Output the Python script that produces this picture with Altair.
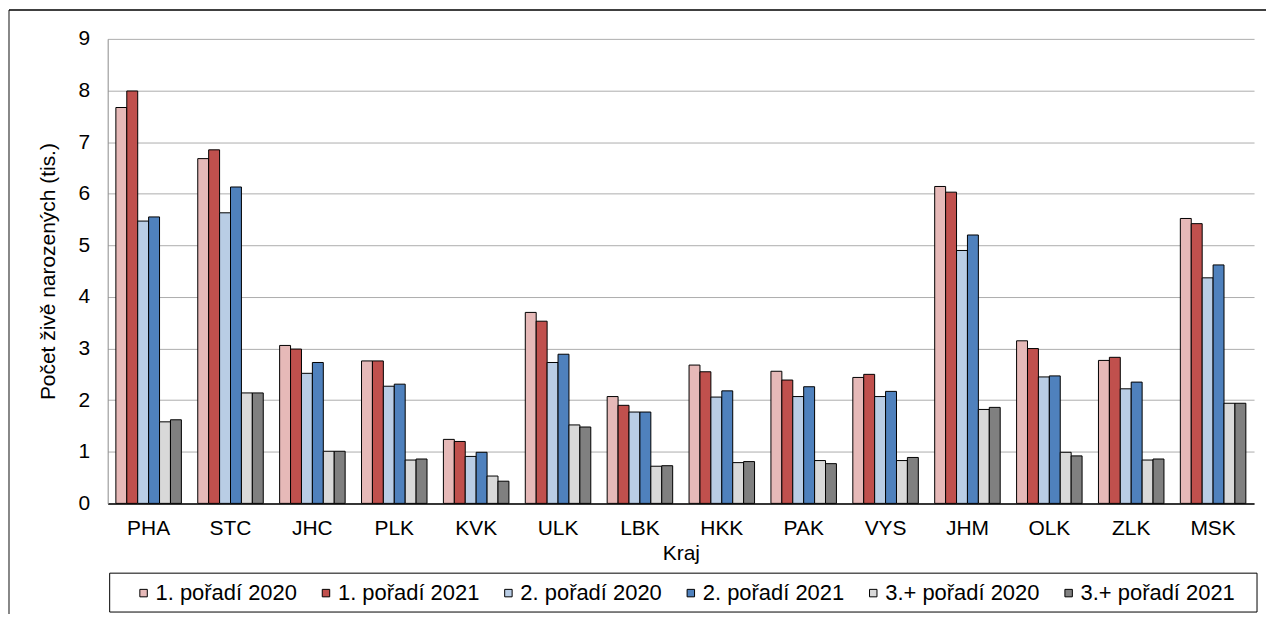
import altair as alt
import pandas as pd

kraje = ["PHA", "STC", "JHC", "PLK", "KVK", "ULK", "LBK", "HKK", "PAK", "VYS", "JHM", "OLK", "ZLK", "MSK"]
serie = ["1. pořadí 2020", "1. pořadí 2021", "2. pořadí 2020", "2. pořadí 2021", "3.+ pořadí 2020", "3.+ pořadí 2021"]
barvy = ["#E6B9B8", "#C0504D", "#B9CDE5", "#4F81BD", "#D9D9D9", "#808080"]

p1_2020 = [7.67, 6.68, 3.06, 2.76, 1.24, 3.70, 2.07, 2.68, 2.56, 2.44, 6.14, 3.15, 2.77, 5.52]
p1_2021 = [7.99, 6.85, 2.99, 2.76, 1.20, 3.53, 1.90, 2.55, 2.39, 2.50, 6.03, 3.00, 2.83, 5.42]
p2_2020 = [5.47, 5.63, 2.52, 2.27, 0.91, 2.73, 1.77, 2.06, 2.07, 2.07, 4.90, 2.45, 2.22, 4.37]
p2_2021 = [5.55, 6.13, 2.73, 2.31, 0.99, 2.89, 1.77, 2.18, 2.26, 2.17, 5.20, 2.47, 2.35, 4.62]
p3_2020 = [1.58, 2.14, 1.01, 0.84, 0.53, 1.52, 0.72, 0.79, 0.83, 0.83, 1.82, 0.99, 0.84, 1.94]
p3_2021 = [1.62, 2.14, 1.01, 0.86, 0.43, 1.48, 0.73, 0.81, 0.77, 0.89, 1.86, 0.92, 0.86, 1.94]

hodnoty = [p1_2020, p1_2021, p2_2020, p2_2021, p3_2020, p3_2021]
rows = []
for s, vals in zip(serie, hodnoty):
    for k, v in zip(kraje, vals):
        rows.append({"kraj": k, "serie": s, "hodnota": v})
df = pd.DataFrame(rows)

FONT = "Liberation Sans"

bars = alt.Chart(df).mark_bar(stroke="black", strokeWidth=1).encode(
    x=alt.X("kraj:N", sort=kraje,
            scale=alt.Scale(paddingInner=0.2, paddingOuter=0.1),
            axis=alt.Axis(title="Kraj", labelAngle=0, ticks=False, grid=False,
                          domainColor="black", domainWidth=1.5,
                          labelFontSize=21, labelPadding=14, labelColor="black",
                          titleFontSize=21, titleFontWeight="normal", titlePadding=4,
                          titleColor="black")),
    xOffset=alt.XOffset("serie:N", sort=serie, scale=alt.Scale(paddingInner=0, paddingOuter=0)),
    y=alt.Y("hodnota:Q", scale=alt.Scale(domain=[0, 9], nice=False),
            axis=alt.Axis(title="Počet živě narozených (tis.)", values=list(range(10)),
                          format="d", ticks=False, grid=True, gridColor="#ADADAD",
                          gridWidth=1, domainColor="#8C8C8C", domainWidth=1,
                          labelFontSize=21, labelPadding=18, labelColor="black",
                          titleFontSize=21, titleFontWeight="normal", titlePadding=20,
                          titleColor="black")),
    color=alt.Color("serie:N", sort=serie,
                    scale=alt.Scale(domain=serie, range=barvy),
                    legend=alt.Legend(title=None, orient="none", legendX=25, legendY=545,
                                      direction="horizontal", columns=6, columnPadding=18,
                                      symbolType="square", symbolSize=56,
                                      symbolStrokeColor="black", symbolStrokeWidth=1,
                                      labelFontSize=22, labelOffset=1, labelColor="black",
                                      padding=0)),
)

legend_box = alt.Chart(pd.DataFrame({"a": [0]})).mark_rect(
    fillOpacity=0, stroke="black", strokeWidth=1
).encode(x=alt.value(2), x2=alt.value(1153), y=alt.value(536), y2=alt.value(575))

frame_left = alt.Chart(pd.DataFrame({"a": [0]})).mark_rule(color="#606060", strokeWidth=1.5).encode(
    x=alt.value(-99), y=alt.value(-29), y2=alt.value(577))
frame_top = alt.Chart(pd.DataFrame({"a": [0]})).mark_rule(color="black", strokeWidth=1.5).encode(
    x=alt.value(-99), x2=alt.value(1162), y=alt.value(-29))

chart = alt.layer(frame_left, frame_top, bars, legend_box).properties(
    width=1150, height=466,
    autosize=alt.AutoSizeParams(type="none"),
    padding={"left": 100, "top": 30, "right": 12, "bottom": 111},
).configure(font=FONT).configure_view(stroke=None)

chart.save("out.html", embed_options={"renderer": "svg", "actions": False})
